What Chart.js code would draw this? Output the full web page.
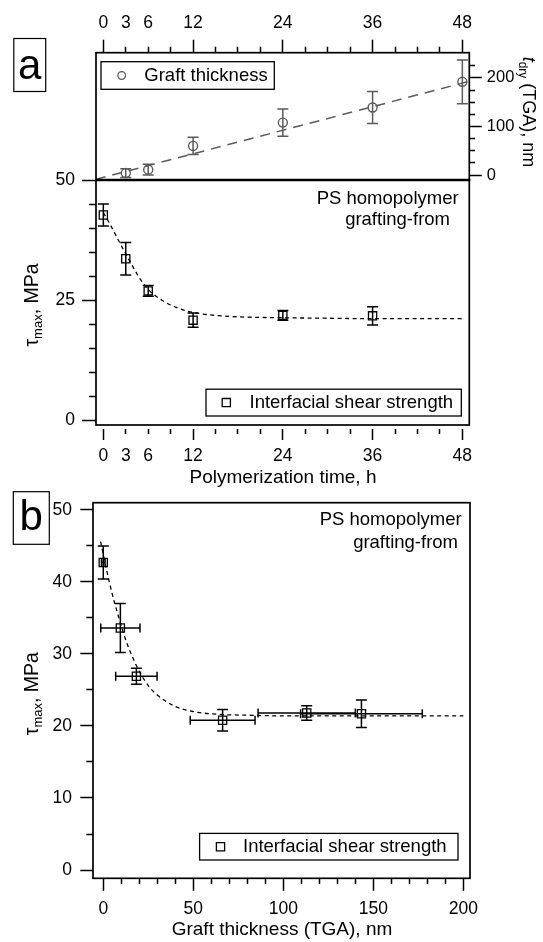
<!DOCTYPE html>
<html>
<head>
<meta charset="utf-8">
<script src="https://cdn.jsdelivr.net/npm/chart.js@4.4.1/dist/chart.umd.min.js"></script>
<style>
  body { margin: 0; background: #fff; }
  #wrap { position: relative; width: 543px; height: 942px; }
  #wrap canvas { position: absolute; left: 0; top: 0; }
</style>
</head>
<body>
<div id="wrap">
  <canvas id="thick" width="543" height="942"></canvas>
  <canvas id="shearTime" width="543" height="942"></canvas>
  <canvas id="shearThick" width="543" height="942"></canvas>
</div>
<script>
// values
const hours = [0, 3, 6, 12, 24, 36];
const shear = [42.7, 33.6, 26.9, 20.8, 21.8, 21.7];
const shearErr = [2.3, 3.4, 1.1, 1.5, 1.0, 1.9];

const graftHours = [3, 6, 12, 24, 36, 48];
const graftNm = [4, 11, 60, 108, 139, 192];
const graftErr = [9, 11, 18, 28, 33, 45];
const graftFitHours = [-1, 48.9];
const graftFitNm = [-9, 193];

const shearFitHours = [0, 1, 2, 3, 4, 5, 6, 8, 10, 12, 15, 18, 24, 30, 36, 48];
const shearFitTime = [43.2, 40.5, 37.5, 34.6, 31.8, 29.2, 27.2, 24.8, 23.3, 22.4, 21.8, 21.5, 21.3, 21.2, 21.1, 21.1];

const thickNm = [0, 9.5, 18.4, 66.3, 113, 143.4];
const thickErr = [1, 10.9, 11.5, 18, 27, 33.8];
const shearFitNm = [-1.5, 2, 5, 8, 12, 16, 20, 25, 30, 40, 50, 65, 80, 100, 150, 200];
const shearFitThick = [45.6, 41.5, 38.3, 35.6, 32.3, 29.7, 27.6, 25.6, 24.3, 22.7, 22.0, 21.6, 21.5, 21.4, 21.4, 21.4];

// tick marks and labels
const timeTicks = [0, 3, 6, 9, 12, 15, 18, 21, 24, 27, 30, 33, 36, 39, 42, 45, 48];
const timeLabels = [0, 3, 6, 12, 24, 36, 48];
const timeMajor = [0, 12, 24, 36, 48];
const nmTicks = [0, 25, 50, 75, 100, 125, 150, 175, 200, 225];
const nmMajor = [0, 100, 200];
const mpaTicks = [0, 5, 10, 15, 20, 25, 30, 35, 40, 45, 50];
const mpaMajorA = [0, 25, 50];
const mpaMajorB = [0, 10, 20, 30, 40, 50];
const thickTicks = [0, 10, 20, 30, 40, 50, 60, 70, 80, 90, 100, 110, 120, 130, 140, 150, 160, 170, 180, 190, 200];
const thickMajor = [0, 50, 100, 150, 200];

const FONT = "'Liberation Sans', Arial, Helvetica, sans-serif";
const GRAY = '#5a5a5a';
Chart.defaults.font.family = FONT;
Chart.defaults.font.size = 18;
Chart.defaults.color = '#000';

const pts = (xs, ys) => xs.map((x, i) => ({x: x, y: ys[i]}));

// linear axis with outside ticks, long majors and short minors
function linAxis(o) {
  return {
    type: 'linear',
    position: o.position,
    min: o.min,
    max: o.max,
    afterBuildTicks: s => { s.ticks = o.ticks.map(v => ({value: v})); },
    afterFit: s => { if (s.isHorizontal()) s.height = o.size; else s.width = o.size; },
    border: {display: false},
    grid: {
      drawOnChartArea: false,
      tickLength: o.len,
      tickWidth: 1.5,
      tickColor: '#000',
      tickBorderDash: c => (c.tick && o.major.includes(c.tick.value)) ? o.majorDash : o.minorDash
    },
    ticks: {
      autoSkip: false,
      maxRotation: 0,
      padding: o.pad,
      color: '#000',
      font: {size: o.font || 17.5, lineHeight: 1.2},
      callback: v => (o.labels || o.major).includes(v) ? String(v) : ''
    }
  };
}

const errorBars = {
  id: 'errorBars',
  afterDatasetsDraw(chart) {
    const {ctx, chartArea: a} = chart;
    const xs = chart.scales.x, ys = chart.scales.y;
    ctx.save();
    ctx.beginPath();
    ctx.rect(a.left, a.top, a.right - a.left, a.bottom - a.top);
    ctx.clip();
    chart.data.datasets.forEach(ds => {
      if (!ds.errY && !ds.errX) return;
      ctx.strokeStyle = ds.borderColor;
      ctx.lineWidth = 1.5;
      ds.data.forEach((p, i) => {
        const px = xs.getPixelForValue(p.x), py = ys.getPixelForValue(p.y);
        ctx.beginPath();
        if (ds.errY) {
          const t = ys.getPixelForValue(p.y + ds.errY[i]);
          const b = ys.getPixelForValue(p.y - ds.errY[i]);
          ctx.moveTo(px, t); ctx.lineTo(px, b);
          ctx.moveTo(px - 5.5, t); ctx.lineTo(px + 5.5, t);
          ctx.moveTo(px - 5.5, b); ctx.lineTo(px + 5.5, b);
        }
        if (ds.errX) {
          const l = xs.getPixelForValue(p.x - ds.errX[i]);
          const r = xs.getPixelForValue(p.x + ds.errX[i]);
          ctx.moveTo(l, py); ctx.lineTo(r, py);
          ctx.moveTo(l, py - 4.5); ctx.lineTo(l, py + 4.5);
          ctx.moveTo(r, py - 4.5); ctx.lineTo(r, py + 4.5);
        }
        ctx.stroke();
      });
    });
    ctx.restore();
  }
};

function text(ctx, str, x, y, align, size) {
  ctx.font = size + 'px ' + FONT;
  ctx.fillStyle = '#000';
  ctx.textAlign = align;
  ctx.textBaseline = 'middle';
  ctx.fillText(str, x, y);
}

function rich(ctx, runs, x, y, rot, size) {
  ctx.save();
  ctx.translate(x, y);
  ctx.rotate(rot);
  ctx.fillStyle = '#000';
  ctx.textAlign = 'left';
  ctx.textBaseline = 'alphabetic';
  const fontOf = r => (r.italic ? 'italic ' : '') + (r.sub ? Math.round(size * 0.66) : size) + 'px ' + FONT;
  let w = 0;
  runs.forEach(r => { ctx.font = fontOf(r); r.w = ctx.measureText(r.t).width; w += r.w; });
  let cx = -w / 2;
  runs.forEach(r => {
    ctx.font = fontOf(r);
    ctx.fillText(r.t, cx, size * 0.36 + (r.sub ? size * 0.22 : 0));
    cx += r.w;
  });
  ctx.restore();
}

function legendBox(ctx, b, style, color, label) {
  ctx.lineWidth = 1.3;
  ctx.strokeStyle = '#000';
  ctx.strokeRect(b.x, b.y, b.w, b.h);
  ctx.strokeStyle = color;
  ctx.fillStyle = 'rgba(0,0,0,0)';
  Chart.helpers.drawPoint(ctx, {pointStyle: style, radius: style === 'rect' ? 5.8 : 3.8, borderWidth: 1.3, rotation: 0}, b.mx, b.y + b.h / 2);
  text(ctx, label, b.tx, b.y + b.h / 2, 'left', 18.5);
}

function panelLetter(ctx, letter, x, y, w, h, base) {
  ctx.lineWidth = 1.2;
  ctx.strokeStyle = '#000';
  ctx.strokeRect(x, y, w, h);
  ctx.font = '42px ' + FONT;
  ctx.fillStyle = '#000';
  ctx.textAlign = 'center';
  ctx.textBaseline = 'alphabetic';
  ctx.fillText(letter, x + w / 2, base);
}

function frame(ctx, a) {
  ctx.lineWidth = 1.7;
  ctx.strokeStyle = '#000';
  ctx.strokeRect(a.left, a.top, a.right - a.left, a.bottom - a.top);
}

function decor(draw) {
  return { id: 'decor', afterDraw(chart) { const ctx = chart.ctx; ctx.save(); draw(ctx, chart.chartArea); ctx.restore(); } };
}

const baseOptions = pad => ({
  responsive: false,
  animation: false,
  events: [],
  layout: {padding: pad},
  plugins: {legend: {display: false}, tooltip: {enabled: false}}
});

// panel a, top: graft thickness vs time
new Chart(document.getElementById('thick'), {
  type: 'scatter',
  data: {datasets: [
    {data: pts(graftFitHours, graftFitNm), showLine: true, borderColor: GRAY, borderWidth: 1.5, borderDash: [10, 7], pointRadius: 0},
    {data: pts(graftHours, graftNm), errY: graftErr, borderColor: GRAY, backgroundColor: 'rgba(0,0,0,0)',
     pointStyle: 'circle', pointRadius: 4.5, pointBorderWidth: 1.4}
  ]},
  options: Object.assign(baseOptions({left: 96, right: 0, top: 0, bottom: 762}), {
    scales: {
      x: linAxis({position: 'top', min: -0.98, max: 48.93, ticks: timeTicks, labels: timeLabels, major: timeMajor,
                  size: 52.7, len: 13, pad: 6, majorDash: [], minorDash: [0, 7, 6, 100]}),
      y: linAxis({position: 'right', min: -10.3, max: 252, ticks: nmTicks, major: nmMajor, font: 16.5,
                  size: 73.7, len: 12.5, pad: 5, majorDash: [], minorDash: [6, 100]})
    }
  }),
  plugins: [errorBars, decor((ctx, a) => {
    frame(ctx, a);
    legendBox(ctx, {x: 101, y: 61.7, w: 173.3, h: 27.6, mx: 121.7, tx: 144.3}, 'circle', GRAY, 'Graft thickness');
    panelLetter(ctx, 'a', 13.8, 38.5, 31.9, 53, 79);
    rich(ctx, [{t: 't', italic: true}, {t: 'dry', sub: true}, {t: ' (TGA), nm'}], 529, 112, Math.PI / 2, 18);
  })]
});

// panel a, bottom: shear strength vs time
new Chart(document.getElementById('shearTime'), {
  type: 'scatter',
  data: {datasets: [
    {data: pts(shearFitHours, shearFitTime), showLine: true, cubicInterpolationMode: 'monotone', borderColor: '#000',
     borderWidth: 1.3, borderDash: [4, 3.5], pointRadius: 0},
    {data: pts(hours, shear), errY: shearErr, borderColor: '#000', backgroundColor: 'rgba(0,0,0,0)',
     pointStyle: 'rect', pointRadius: 5.8, pointBorderWidth: 1.3}
  ]},
  options: Object.assign(baseOptions({left: 0, right: 73.7, top: 180, bottom: 457}), {
    scales: {
      x: linAxis({position: 'bottom', min: -0.98, max: 48.93, ticks: timeTicks, labels: timeLabels, major: timeMajor,
                  size: 60, len: 15, pad: 5.4, majorDash: [0, 4, 11, 100], minorDash: [0, 4, 5, 100]}),
      y: linAxis({position: 'left', min: -1.04, max: 50, ticks: mpaTicks, major: mpaMajorA,
                  size: 96, len: 14, pad: 7, majorDash: [], minorDash: [0, 7, 7, 100]})
    }
  }),
  plugins: [errorBars, decor((ctx, a) => {
    frame(ctx, a);
    ctx.lineWidth = 2.6;
    ctx.beginPath();
    ctx.moveTo(a.left - 1, a.top); ctx.lineTo(a.right + 1, a.top);
    ctx.stroke();
    text(ctx, 'PS homopolymer', 458.6, 199, 'right', 18.5);
    text(ctx, 'grafting-from', 450, 219.5, 'right', 18.5);
    legendBox(ctx, {x: 206, y: 389.2, w: 255.3, h: 26.8, mx: 226.3, tx: 249.5}, 'rect', '#000', 'Interfacial shear strength');
    rich(ctx, [{t: 'τ'}, {t: 'max', sub: true}, {t: ', MPa'}], 31, 305, -Math.PI / 2, 19.5);
    text(ctx, 'Polymerization time, h', 283, 477.5, 'center', 19);
  })]
});

// panel b: shear strength vs graft thickness
new Chart(document.getElementById('shearThick'), {
  type: 'scatter',
  data: {datasets: [
    {data: pts(shearFitNm, shearFitThick), showLine: true, cubicInterpolationMode: 'monotone', borderColor: '#000',
     borderWidth: 1.3, borderDash: [4, 3.5], pointRadius: 0},
    {data: pts(thickNm, shear), errY: shearErr, errX: thickErr, borderColor: '#000', backgroundColor: 'rgba(0,0,0,0)',
     pointStyle: 'rect', pointRadius: 5.8, pointBorderWidth: 1.3}
  ]},
  options: Object.assign(baseOptions({left: 0, right: 73, top: 502.7, bottom: 13.7}), {
    scales: {
      x: linAxis({position: 'bottom', min: -5.7, max: 203.7, ticks: thickTicks, major: thickMajor,
                  size: 50, len: 12.5, pad: 7.9, majorDash: [], minorDash: [6, 100]}),
      y: linAxis({position: 'left', min: -1.15, max: 51.0, ticks: mpaTicks, major: mpaMajorB,
                  size: 93, len: 12.7, pad: 8.3, majorDash: [], minorDash: [0, 6, 6.7, 100]})
    }
  }),
  plugins: [errorBars, decor((ctx, a) => {
    frame(ctx, a);
    panelLetter(ctx, 'b', 13.3, 491.7, 36, 52.6, 530);
    text(ctx, 'PS homopolymer', 461.6, 520, 'right', 18.5);
    text(ctx, 'grafting-from', 458, 542.8, 'right', 18.5);
    legendBox(ctx, {x: 199.6, y: 833.4, w: 258.4, h: 26.6, mx: 220.5, tx: 243}, 'rect', '#000', 'Interfacial shear strength');
    rich(ctx, [{t: 'τ'}, {t: 'max', sub: true}, {t: ', MPa'}], 31, 693.7, -Math.PI / 2, 19.5);
    text(ctx, 'Graft thickness (TGA), nm', 282, 930, 'center', 19);
  })]
});
</script>
</body>
</html>
